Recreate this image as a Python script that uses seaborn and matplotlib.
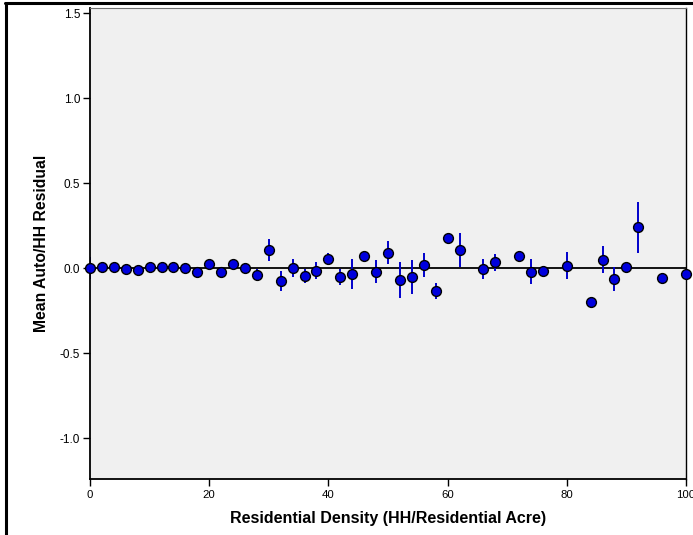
import matplotlib
matplotlib.use("Agg")
import matplotlib.pyplot as plt
import seaborn as sns
import pandas as pd
from matplotlib.lines import Line2D

density = [0, 2, 4, 6, 8, 10, 12, 14, 16, 18, 20, 22, 24, 26, 28, 30, 32, 34, 36, 38,
           40, 42, 44, 46, 48, 50, 52, 54, 56, 58, 60, 62, 66, 68, 72, 74, 76, 80,
           84, 86, 88, 90, 92, 96, 100]
mean_resid = [0.0, 0.006, 0.004, -0.004, -0.008, 0.008, 0.004, 0.004, 0.0, -0.022,
              0.022, -0.022, 0.022, 0.0, -0.041, 0.108, -0.076, 0.002, -0.047, -0.014,
              0.053, -0.053, -0.035, 0.073, -0.02, 0.092, -0.07, -0.05, 0.02, -0.135,
              0.18, 0.105, -0.005, 0.035, 0.07, -0.02, -0.015, 0.015,
              -0.2, 0.05, -0.065, 0.005, 0.24, -0.055, -0.035]
err_half = [0.065, 0.01, 0.01, 0.01, 0.01, 0.01, 0.01, 0.01, 0.01, 0.01,
            0.01, 0.01, 0.024, 0.03, 0.035, 0.064, 0.06, 0.052, 0.04, 0.052,
            0.035, 0.046, 0.087, 0.03, 0.07, 0.066, 0.105, 0.1, 0.07, 0.045,
            0.0, 0.1, 0.06, 0.05, 0.0, 0.075, 0.0, 0.08,
            0.0, 0.08, 0.07, 0.0, 0.15, 0.0, 0.0]
yticks = [-1.0, -0.5, 0.0, 0.5, 1.0, 1.5]
xticks = [0, 20, 40, 60, 80, 100]

df = pd.DataFrame({"density": density, "resid": mean_resid, "err": err_half})

sns.set_style("white")
plt.rcParams["font.family"] = ["Liberation Sans", "DejaVu Sans"]

fig = plt.figure(figsize=(6.93, 5.35), dpi=100)
ax = fig.add_axes([90 / 693, 1 - 479 / 535, (686 - 90) / 693, (479 - 8) / 535])
ax.set_facecolor("#F0F0F0")

ax.axhline(0, color="black", lw=1.3, zorder=1)
ax.errorbar(df["density"], df["resid"], yerr=df["err"], fmt="none",
            ecolor="#0000CC", elinewidth=1.4, capsize=0, zorder=2)
sns.scatterplot(data=df, x="density", y="resid", ax=ax, s=50, color="#0000DD",
                edgecolor="black", linewidth=1.0, zorder=3, clip_on=False)

ax.set_xlim(0, 100)
ax.set_ylim(-1.24, 1.53)
ax.set_xticks(xticks)
ax.set_xticklabels([str(t) for t in xticks], fontsize=8.2)
ax.set_yticks(yticks)
ax.set_yticklabels([f"{t:.1f}" for t in yticks], fontsize=8.5)
ax.tick_params(axis="both", which="major", direction="out", length=5, width=1,
               color="black", labelcolor="black", bottom=True, left=True,
               top=False, right=False)
ax.tick_params(axis="x", pad=3)
ax.tick_params(axis="y", pad=2)

for side in ["left", "bottom", "right"]:
    ax.spines[side].set_color("black")
    ax.spines[side].set_linewidth(1.0)
ax.spines["left"].set_linewidth(1.3)
ax.spines["bottom"].set_linewidth(1.3)
ax.spines["top"].set_color("#707070")
ax.spines["top"].set_linewidth(0.8)

ax.set_xlabel("Residential Density (HH/Residential Acre)", fontsize=11.5,
              fontweight="bold", labelpad=8, color="black")
ax.set_ylabel("Mean Auto/HH Residual", fontsize=11.3, fontweight="bold",
              labelpad=8, color="black")

# figure border (left and top)
fig.add_artist(Line2D([6 / 693, 6 / 693], [0, 1 - 3 / 535], transform=fig.transFigure,
                      color="black", lw=2.2))
fig.add_artist(Line2D([5 / 693, 1], [1 - 3 / 535, 1 - 3 / 535], transform=fig.transFigure,
                      color="black", lw=2.2))

fig.savefig("out.png", dpi=100)
